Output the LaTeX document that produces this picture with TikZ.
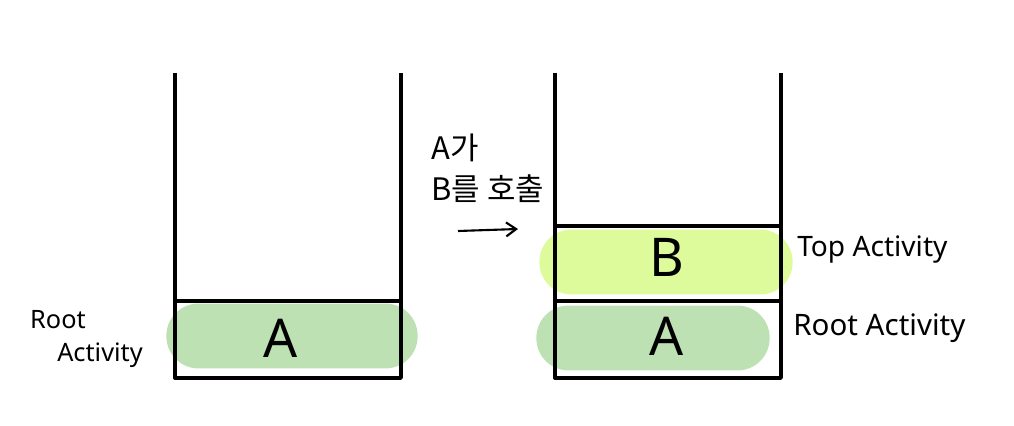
\documentclass[tikz,border=0pt]{standalone}
\usepackage{fontspec}
\setmainfont{Noto Sans}
\newfontfamily\kofont{Noto Sans CJK KR}
\usepackage{xcolor}
\definecolor{rootgreen}{RGB}{190,225,180}
\definecolor{topgreen}{RGB}{222,251,155}
\usetikzlibrary{arrows.meta, positioning}

\begin{document}
\begin{tikzpicture}[x=0.025cm, y=-0.025cm,
    stackline/.style={line width=2.4pt, line join=round},
    blob/.style={rectangle, rounded corners=0.8cm, draw=none,
      minimum height=1.62cm, inner sep=0pt},
    letter/.style={font=\fontsize{38}{40}\selectfont},
    label/.style={font=\fontsize{20}{24}\selectfont, inner sep=0pt},
    arrow/.style={line width=1.5pt, -{Straight Barb[length=2.5mm, width=3.5mm]}}
]
\useasboundingbox (0,0) rectangle (1014,426);

%% Blobs behind the cells
\node[blob, fill=rootgreen, minimum width=6.28cm] (blobL) at (292,336) {};
\node[blob, fill=topgreen, minimum width=6.33cm] (blobB) at (666,262) {};
\node[blob, fill=rootgreen, minimum width=5.83cm] (blobR) at (653,338) {};

%% Left stack
\draw[stackline] (175,73) -- (175,378) -- (401,378) -- (401,73);
\draw[stackline] (175,301) -- (401,301);
\node[letter] (actA1) at (281,338) {A};
\node[label, font=\fontsize{18}{20}\selectfont] (rootL1) at (58,320) {Root};
\node[label, font=\fontsize{18}{20}\selectfont] (rootL2) at (100,355) {Activity};

%% Right stack
\draw[stackline] (555,73) -- (555,378) -- (781,378) -- (781,73);
\draw[stackline] (555,226) -- (781,226);
\draw[stackline] (555,301) -- (781,301);
\node[letter] (actB) at (667,257) {B};
\node[letter] (actA2) at (667,336) {A};
\node[label, anchor=west] (topR) at (797,250) {Top Activity};
\node[label, anchor=west, font=\fontsize{21}{24}\selectfont] (rootR) at (793,328) {Root Activity};

%% Call
\node[label, anchor=north west, align=left, font=\kofont\fontsize{22}{29}\selectfont]
  (call) at (431,134) {A가\\B를 호출};
\coordinate (callS) at (458,231);
\coordinate (callE) at (518,229);
\draw[arrow] (callS) -- (callE);
\end{tikzpicture}
\end{document}
